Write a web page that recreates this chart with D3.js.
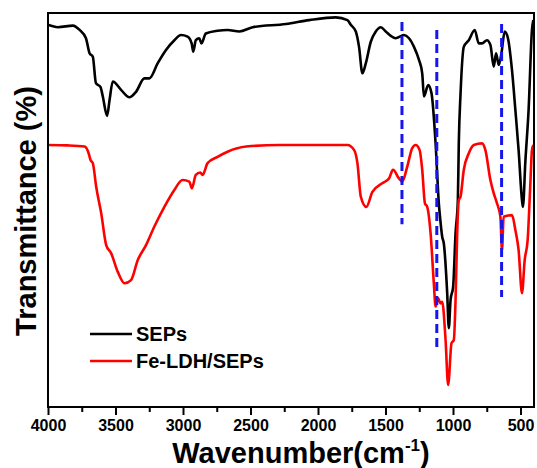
<!DOCTYPE html>
<html>
<head>
<meta charset="utf-8">
<script src="https://cdn.jsdelivr.net/npm/d3@7"></script>
<style>
  body { margin: 0; background: #fff; }
  text { font-family: Arial, "Liberation Sans", sans-serif; font-weight: bold; }
</style>
</head>
<body>
<div id="ftirchart"></div>
<script>
// SEPs spectrum (wavenumber, transmittance a.u.)
var sepsWn = [4000,3926,3815,3766,3719,3692,3668,3645,3611,3594,3562,3544,3520,3459,3397,3348,3286,3249,3188,3126,3064,3015,2966,2936,2924,2905,2880,2863,2831,2744,2670,2582,2484,2237,2065,1868,1782,1757,1720,1696,1671,1646,1609,1572,1535,1498,1461,1425,1363,1326,1289,1252,1228,1215,1184,1159,1129,1105,1094,1080,1068,1043,1031,1018,999,981,964,957,944,920,883,839,809,785,748,723,698,681,661,641,617,593,563,538,514,489,482,464,440,415,405];
var sepsT  = [97.0,96.4,96.8,95.7,93.6,89.8,88.9,82.2,81.2,78.8,73.9,77.9,82.6,80.5,78.6,80.0,83.4,83.4,87.2,90.6,93.1,94.4,94.0,92.3,90.2,93.1,93.6,92.3,94.8,95.5,95.7,95.3,96.4,97.2,98.2,98.9,98.2,97.0,95.3,91.4,84.7,87.2,92.7,95.3,96.4,95.3,94.2,93.6,94.4,93.6,91.4,88.1,84.7,78.8,81.7,79.6,66.9,51.7,47.5,43.2,41.5,28.9,20.0,27.2,30.5,44.2,52.5,67.0,79.6,91.4,93.1,95.7,92.3,92.3,93.1,91.9,86.4,89.8,86.8,89.8,95.3,93.6,85.5,75.4,65.2,52.5,50.8,62.3,75.4,95.7,98.2];

// Fe-LDH/SEPs spectrum
var ldhWn = [4000,3852,3729,3699,3685,3668,3643,3606,3569,3532,3483,3433,3385,3335,3274,3212,3138,3064,3003,2953,2934,2905,2872,2855,2818,2744,2670,2532,2286,1782,1732,1708,1683,1642,1597,1524,1474,1444,1400,1376,1339,1302,1277,1247,1228,1208,1191,1166,1142,1129,1110,1092,1080,1055,1036,1011,994,981,969,957,944,920,883,846,785,760,723,698,674,649,637,625,563,538,514,489,469,447,429,415,405];
var ldhT  = [66.5,66.4,66.1,64.4,62.7,61.9,55.9,49.2,41.1,39.0,34.3,31.4,32.2,37.3,41.1,45.8,50.8,55.1,57.6,57.2,55.5,58.9,59.5,58.9,61.9,63.5,64.8,66.1,66.5,66.5,65.2,61.9,53.4,50.8,54.6,56.8,58.0,60.2,58.0,57.2,61.0,65.7,66.5,65.2,60.2,51.7,50.8,44.1,31.4,25.5,27.6,26.3,26.7,17.0,5.6,16.2,17.0,27.2,44.1,52.5,53.4,60.2,64.4,66.5,66.9,65.2,57.6,54.2,51.7,48.3,39.8,48.3,48.7,44.9,39.8,28.9,37.3,42.4,55.1,65.2,66.5];

// blue dashed guide lines
var markWn     = [1378, 1120, 640];
var markTop    = [97.7, 95.7, 97.2];
var markBottom = [46.4, 14.5, 27.9];

var xTicks = [4000, 3500, 3000, 2500, 2000, 1500, 1000, 500];
var seriesNames = ["SEPs", "Fe-LDH/SEPs"];
var seriesColors = ["#000000", "#ff0000"];

var W = 537, H = 468;
var margin = {top: 13, right: 3, bottom: 61, left: 48},
    width = W - margin.left - margin.right,
    height = H - margin.top - margin.bottom;

var svg = d3.select("#ftirchart")
    .append("svg")
    .attr("width", W)
    .attr("height", H)
    .append("g")
    .attr("transform", "translate(" + margin.left + "," + margin.top + ")");

var x = d3.scaleLinear().domain([4000, 400]).range([0, width]);
var y = d3.scaleLinear().domain([0, 100]).range([height, 0]);

// bottom axis: major + minor ticks pointing out
var minor = d3.range(3750, 400, -500);
svg.append("g")
    .attr("transform", "translate(0," + height + ")")
    .call(d3.axisBottom(x).tickValues(minor).tickSize(5).tickFormat(""))
    .call(function(g){ g.select(".domain").remove(); })
    .selectAll("line").attr("stroke-width", 2);

var xAxis = svg.append("g")
    .attr("transform", "translate(0," + height + ")")
    .call(d3.axisBottom(x).tickValues(xTicks).tickSize(8).tickPadding(5).tickFormat(d3.format("d")));
xAxis.select(".domain").remove();
xAxis.selectAll("line").attr("stroke-width", 2);
xAxis.selectAll("text")
    .attr("font-size", 16)
    .attr("font-weight", "bold")
    .attr("font-family", "Arial, 'Liberation Sans', sans-serif")
    .attr("fill", "#000");

// curves
var line = d3.line()
    .x(function(d){ return x(d[0]); })
    .y(function(d){ return y(d[1]); })
    .curve(d3.curveMonotoneX);

var allData = [d3.zip(sepsWn, sepsT), d3.zip(ldhWn, ldhT)];

svg.selectAll(".spec")
    .data(allData)
    .enter().append("path")
    .attr("class", "spec")
    .attr("d", line)
    .attr("fill", "none")
    .attr("stroke", function(d, i){ return seriesColors[i]; })
    .attr("stroke-width", 2.6)
    .attr("stroke-linejoin", "round");

// dashed marks
svg.selectAll(".mark")
    .data(markWn)
    .enter().append("line")
    .attr("class", "mark")
    .attr("x1", function(d){ return x(d); })
    .attr("x2", function(d){ return x(d); })
    .attr("y1", function(d, i){ return y(markTop[i]); })
    .attr("y2", function(d, i){ return y(markBottom[i]); })
    .attr("stroke", "#1515ee")
    .attr("stroke-width", 3)
    .attr("stroke-dasharray", "9,5");

// frame
svg.append("rect")
    .attr("width", width)
    .attr("height", height)
    .attr("fill", "none")
    .attr("stroke", "#000")
    .attr("stroke-width", 2);

// legend
var legend = svg.append("g").attr("transform", "translate(42, 321)");
legend.selectAll("line")
    .data(seriesNames)
    .enter().append("line")
    .attr("x1", 0).attr("x2", 42)
    .attr("y1", function(d, i){ return i * 27; })
    .attr("y2", function(d, i){ return i * 27; })
    .attr("stroke", function(d, i){ return seriesColors[i]; })
    .attr("stroke-width", 2.6);
legend.selectAll("text")
    .data(seriesNames)
    .enter().append("text")
    .text(function(d){ return d; })
    .attr("x", 46)
    .attr("y", function(d, i){ return i * 27 + 7; })
    .attr("font-size", 20);

// axis titles
svg.append("text")
    .attr("transform", "translate(-12," + (height / 2 + 1) + ") rotate(-90)")
    .attr("text-anchor", "middle")
    .attr("font-size", 29)
    .text("Transmittance (%)");

var xt = svg.append("text")
    .attr("x", width / 2 + 10)
    .attr("y", height + 56)
    .attr("text-anchor", "middle")
    .attr("font-size", 29);
xt.append("tspan").text("Wavenumber(cm");
xt.append("tspan").attr("font-size", 17).attr("dy", -12).text("-1");
xt.append("tspan").attr("dy", 12).text(")");
</script>
</body>
</html>
